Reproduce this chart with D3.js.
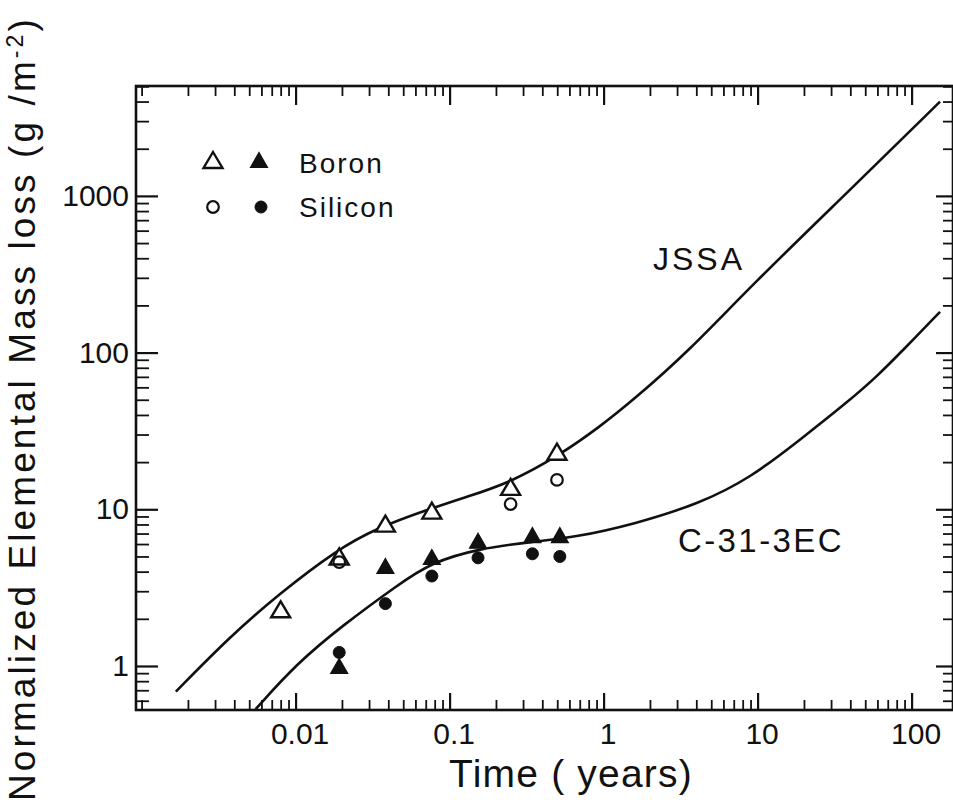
<!DOCTYPE html>
<html>
<head>
<meta charset="utf-8">
<script src="https://cdn.jsdelivr.net/npm/d3@7"></script>
<style>
  html, body { margin: 0; padding: 0; background: #fff; }
  svg { display: block; }
  text { font-family: "Liberation Sans", Arial, Helvetica, sans-serif; fill: #111; }
</style>
</head>
<body>
<svg id="chart" width="953" height="805"></svg>
<script>
// ---------------- data ----------------
const xMajorTicks = [0.01, 0.1, 1, 10, 100];
const xMajorLabels = ["0.01", "0.1", "1", "10", "100"];
const yMajorTicks = [1, 10, 100, 1000];
const yMajorLabels = ["1", "10", "100", "1000"];

// model curves (time in years, mass loss in g/m^2)
const jssaT = [0.00167, 0.00375, 0.0079, 0.0185, 0.0336, 0.071, 0.129, 0.244, 0.521, 0.948, 1.56, 3.64, 8.93, 39.8, 153];
const jssaM = [0.686, 1.54, 2.91, 5.5, 7.57, 9.9, 12.0, 14.7, 22.2, 33.7, 49.8, 104, 263, 1091, 3992];

const c31T = [0.0055, 0.0102, 0.0204, 0.0462, 0.0746, 0.157, 0.350, 0.636, 1.56, 4.23, 8.93, 18.8, 39.8, 59.3, 88.3, 153];
const c31M = [0.53, 1.04, 1.83, 3.29, 4.54, 5.64, 6.21, 6.6, 8.0, 10.9, 15.8, 27.7, 49.8, 70.2, 104, 182];

// measured points
const boronOpenT = [0.008, 0.0192, 0.0383, 0.0767, 0.249, 0.498];
const boronOpenM = [2.3, 5.0, 8.1, 9.8, 13.9, 23.3];
const siliconOpenT = [0.0192, 0.249, 0.498];
const siliconOpenM = [4.6, 10.8, 15.4];
const boronFilledT = [0.0192, 0.0383, 0.0767, 0.153, 0.345, 0.52];
const boronFilledM = [1.0, 4.35, 4.96, 6.3, 6.85, 6.85];
const siliconFilledT = [0.0192, 0.0383, 0.0767, 0.153, 0.345, 0.52];
const siliconFilledM = [1.22, 2.5, 3.75, 4.9, 5.2, 5.0];

const curveLabels = ["JSSA", "C-31-3EC"];
const legendLabels = ["Boron", "Silicon"];

// ---------------- layout ----------------
const L = 136, R = 953, T = 86, B = 710;
const svg = d3.select("#chart");

const x = d3.scaleLog().domain([0.00092, 185.7]).range([L, R]);
const y = d3.scaleLog().domain([0.5237, 5027]).range([B, T]);

const xMinor = x.ticks().filter(v => !xMajorTicks.some(m => Math.abs(m - v) / m < 1e-6));
const yMinor = y.ticks().filter(v => !yMajorTicks.some(m => Math.abs(m - v) / m < 1e-6));

const ink = "#111";

function styleAxis(g, w) {
  g.select(".domain").remove();
  g.selectAll(".tick line").attr("stroke", ink).attr("stroke-width", w);
}

// bottom axis
svg.append("g").attr("transform", `translate(0,${B})`)
  .call(d3.axisBottom(x).tickValues(xMinor).tickSize(-10).tickFormat(""))
  .call(g => styleAxis(g, 1.8));
svg.append("g").attr("transform", `translate(0,${B})`)
  .call(d3.axisBottom(x).tickValues(xMajorTicks).tickSize(-17).tickPadding(13)
    .tickFormat((d, i) => xMajorLabels[i]))
  .call(g => styleAxis(g, 2.2))
  .call(g => g.selectAll("text").attr("font-size", 30).attr("fill", ink)
    .attr("font-family", "Liberation Sans, Arial, sans-serif").attr("dx", 4));

// top axis
svg.append("g").attr("transform", `translate(0,${T})`)
  .call(d3.axisTop(x).tickValues(xMinor).tickSize(-10).tickFormat(""))
  .call(g => styleAxis(g, 1.8));
svg.append("g").attr("transform", `translate(0,${T})`)
  .call(d3.axisTop(x).tickValues(xMajorTicks).tickSize(-19).tickFormat(""))
  .call(g => styleAxis(g, 2.2));

// left axis
svg.append("g").attr("transform", `translate(${L},0)`)
  .call(d3.axisLeft(y).tickValues(yMinor).tickSize(-13).tickFormat(""))
  .call(g => styleAxis(g, 1.8));
svg.append("g").attr("transform", `translate(${L},0)`)
  .call(d3.axisLeft(y).tickValues(yMajorTicks).tickSize(-22).tickPadding(7)
    .tickFormat((d, i) => yMajorLabels[i]))
  .call(g => styleAxis(g, 2.2))
  .call(g => g.selectAll("text").attr("font-size", 30).attr("fill", ink)
    .attr("font-family", "Liberation Sans, Arial, sans-serif"));

// right axis
svg.append("g").attr("transform", `translate(${R},0)`)
  .call(d3.axisRight(y).tickValues(yMinor).tickSize(-10).tickFormat(""))
  .call(g => styleAxis(g, 1.8));
svg.append("g").attr("transform", `translate(${R},0)`)
  .call(d3.axisRight(y).tickValues(yMajorTicks).tickSize(-17).tickFormat(""))
  .call(g => styleAxis(g, 2.2));

// frame
svg.append("rect").attr("x", L).attr("y", T).attr("width", R - L).attr("height", B - T)
  .attr("fill", "none").attr("stroke", ink).attr("stroke-width", 2.6);

// clip
svg.append("clipPath").attr("id", "clip").append("rect")
  .attr("x", L).attr("y", T).attr("width", R - L).attr("height", B - T);

const line = d3.line().x(d => x(d[0])).y(d => y(d[1])).curve(d3.curveBasis);
const plot = svg.append("g").attr("clip-path", "url(#clip)");

plot.append("path").datum(jssaT.map((t, i) => [t, jssaM[i]]))
  .attr("d", line).attr("fill", "none").attr("stroke", ink).attr("stroke-width", 2.6);
plot.append("path").datum(c31T.map((t, i) => [t, c31M[i]]))
  .attr("d", line).attr("fill", "none").attr("stroke", ink).attr("stroke-width", 2.6);

// marker shapes
function triPath(w, h) {
  return `M0,${-h / 2}L${w / 2},${h / 2}L${-w / 2},${h / 2}Z`;
}
function drawTri(g, cx, cy, filled) {
  g.append("path").attr("transform", `translate(${cx},${cy})`)
    .attr("d", filled ? triPath(17, 15) : triPath(19, 16))
    .attr("fill", filled ? ink : "#fff")
    .attr("stroke", ink).attr("stroke-width", filled ? 1.2 : 2.4)
    .attr("stroke-linejoin", "miter");
}
function drawCirc(g, cx, cy, filled) {
  g.append("circle").attr("cx", cx).attr("cy", cy).attr("r", filled ? 6 : 5.8)
    .attr("fill", filled ? ink : "none")
    .attr("stroke", ink).attr("stroke-width", filled ? 1 : 2.2);
}

boronOpenT.forEach((t, i) => drawTri(plot, x(t), y(boronOpenM[i]), false));
siliconOpenT.forEach((t, i) => drawCirc(plot, x(t), y(siliconOpenM[i]), false));
boronFilledT.forEach((t, i) => drawTri(plot, x(t), y(boronFilledM[i]), true));
siliconFilledT.forEach((t, i) => drawCirc(plot, x(t), y(siliconFilledM[i]), true));

// legend
const leg = svg.append("g");
drawTri(leg, 213, 160, false);
drawTri(leg, 259, 160, true);
drawCirc(leg, 213, 207, false);
drawCirc(leg, 261, 207, true);
leg.append("text").attr("x", 299).attr("y", 173).attr("font-size", 28)
  .attr("letter-spacing", 2).text(legendLabels[0]);
leg.append("text").attr("x", 299).attr("y", 217).attr("font-size", 28)
  .attr("letter-spacing", 2).text(legendLabels[1]);

// curve labels
svg.append("text").attr("x", 653).attr("y", 270).attr("font-size", 32)
  .attr("letter-spacing", 3).text(curveLabels[0]);
svg.append("text").attr("x", 678).attr("y", 552).attr("font-size", 33)
  .attr("letter-spacing", 2.4).text(curveLabels[1]);

// axis titles
svg.append("text").attr("x", 571).attr("y", 787).attr("text-anchor", "middle")
  .attr("font-size", 39).attr("letter-spacing", 1.2).text("Time ( years)");

const yt = svg.append("text").attr("transform", "translate(35,801) rotate(-90)")
  .attr("font-size", 37).attr("letter-spacing", 3.1);
yt.append("tspan").text("Normalized Elemental Mass loss (g /m");
yt.append("tspan").attr("dy", -12).attr("font-size", 23).text("-2");
yt.append("tspan").attr("dy", 12).text(")");
</script>
</body>
</html>
